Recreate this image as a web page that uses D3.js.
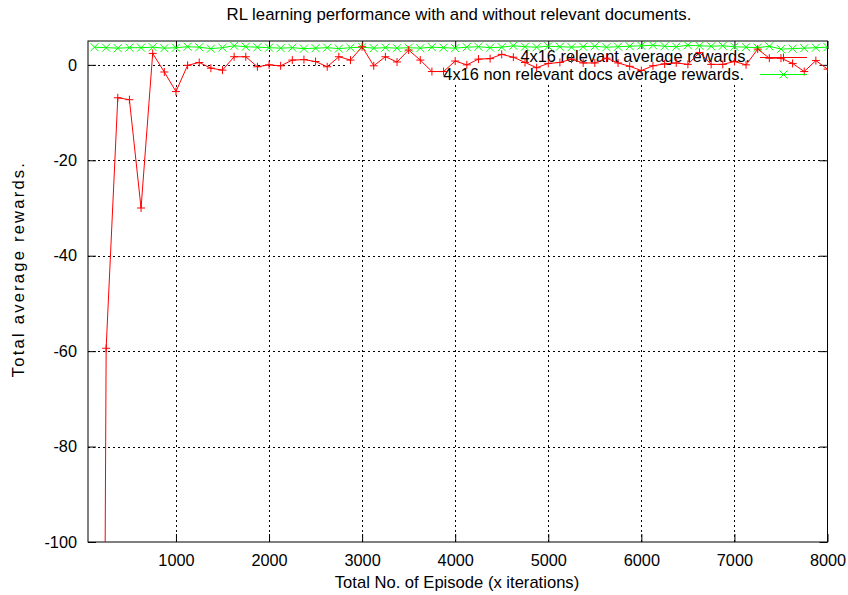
<!DOCTYPE html>
<html>
<head>
<meta charset="utf-8">
<script src="https://cdn.jsdelivr.net/npm/d3@7"></script>
<style>
  html, body { margin: 0; padding: 0; background: #fff; }
  svg { display: block; font-family: "Liberation Sans", Arial, Helvetica, sans-serif; }
</style>
</head>
<body>
<svg id="chart" width="848" height="595"></svg>
<script>
// Episode counts at which the average reward was sampled
const episodes = [
  125, 250, 375, 500, 625, 750, 875, 1000,
  1125, 1250, 1375, 1500, 1625, 1750, 1875, 2000,
  2125, 2250, 2375, 2500, 2625, 2750, 2875, 3000,
  3125, 3250, 3375, 3500, 3625, 3750, 3875, 4000,
  4125, 4250, 4375, 4500, 4625, 4750, 4875, 5000,
  5125, 5250, 5375, 5500, 5625, 5750, 5875, 6000,
  6125, 6250, 6375, 6500, 6625, 6750, 6875, 7000,
  7125, 7250, 7375, 7500, 7625, 7750, 7875, 8000
];

// 4x16 relevant average rewards
const relevantRewards = [
  -540, -59.4, -6.9, -7.3, -30.0, 2.4, -1.5, -5.6,
  -0.1, 0.5, -0.7, -1.1, 1.7, 1.7, -0.4, 0.0,
  -0.2, 1.0, 1.1, 0.7, -0.4, 1.7, 1.0, 3.8,
  -0.2, 1.7, 0.6, 3.1, 1.0, -1.4, -1.4, 0.8,
  0.0, 1.2, 1.3, 2.2, 1.6, 0.5, -0.6, 0.3,
  0.5, 1.2, 0.4, 0.4, 1.4, 0.4, -0.3, -1.2,
  -0.2, 0.2, 0.4, 0.1, 2.6, 0.1, 0.1, 0.7,
  0.0, 3.3, 1.4, 1.4, 0.3, -1.4, 0.9, -0.9
];

// 4x16 non relevant docs average rewards
const nonRelevantRewards = [
  3.7, 3.6, 3.5, 3.6, 3.6, 3.7, 3.5, 3.6,
  3.8, 3.7, 3.4, 3.6, 4.0, 3.8, 3.7, 3.6,
  3.5, 3.6, 3.4, 3.5, 3.6, 3.4, 3.6, 3.7,
  3.5, 3.6, 3.5, 3.6, 3.5, 3.7, 3.6, 3.5,
  3.7, 3.8, 3.6, 3.7, 4.0, 3.8, 3.7, 3.9,
  3.8, 3.7, 3.8, 3.9, 3.7, 3.8, 3.9, 4.0,
  4.1, 3.9, 3.8, 4.1, 4.0, 3.9, 4.0, 3.8,
  3.7, 3.6, 3.9, 3.3, 3.4, 3.5, 3.6, 3.7
];

const xTicks = [1000, 2000, 3000, 4000, 5000, 6000, 7000, 8000];
const yTicks = [0, -20, -40, -60, -80, -100];

const seriesNames = [
  "4x16 relevant average rewards.",
  "4x16 non relevant docs average rewards."
];
const seriesColors = ["#ff0000", "#00ff00"];

const titleText = "RL learning performance with and without relevant documents.";
const xLabelText = "Total No. of Episode (x iterations)";
const yLabelText = "Total average rewards.";

// ---- layout ----
const plot = { left: 88, right: 827.5, top: 41, bottom: 542 };
const svg = d3.select("#chart");

const x = d3.scaleLinear().domain([55, 8000]).range([plot.left, plot.right]);
const y = d3.scaleLinear().domain([-100, 5]).range([plot.bottom, plot.top]);

const defs = svg.append("defs");
defs.append("clipPath").attr("id", "plotClip")
  .append("rect")
  .attr("x", plot.left).attr("y", plot.top)
  .attr("width", plot.right - plot.left).attr("height", plot.bottom - plot.top);

// the grid stays clear of the key area
const gridMask = defs.append("mask").attr("id", "gridMask")
  .attr("maskUnits", "userSpaceOnUse")
  .attr("x", 0).attr("y", 0).attr("width", 848).attr("height", 595);
gridMask.append("rect").attr("x", 0).attr("y", 0).attr("width", 848).attr("height", 595).attr("fill", "#fff");
gridMask.append("rect").attr("x", 345).attr("y", plot.top - 2).attr("width", 480).attr("height", 74 - plot.top + 2).attr("fill", "#000");
gridMask.append("rect").attr("x", 430).attr("y", plot.top - 2).attr("width", 390).attr("height", 84 - plot.top + 2).attr("fill", "#000");

// ---- grid ----
const grid = svg.append("g").attr("mask", "url(#gridMask)")
  .attr("stroke", "#000").attr("stroke-width", 1).attr("stroke-dasharray", "2,3");

grid.selectAll("line.gx").data(xTicks.filter(d => d < 8000)).join("line")
  .attr("class", "gx")
  .attr("x1", d => Math.round(x(d)) + 0.5).attr("x2", d => Math.round(x(d)) + 0.5)
  .attr("y1", plot.bottom).attr("y2", plot.top);

grid.selectAll("line.gy").data(yTicks.filter(d => d > -100)).join("line")
  .attr("class", "gy")
  .attr("y1", d => Math.round(y(d)) + 0.5).attr("y2", d => Math.round(y(d)) + 0.5)
  .attr("x1", plot.left).attr("x2", plot.right);

// ---- axes (ticks point inward, mirrored on top and right) ----
const tickLen = 8;
const fontTick = 16.3;
const plainNumber = d => String(d);

const xAxisBottom = d3.axisBottom(x).tickValues(xTicks).tickSize(-tickLen).tickPadding(12).tickFormat(plainNumber);
const gxb = svg.append("g").attr("transform", `translate(0,${plot.bottom})`).call(xAxisBottom);
const xAxisTop = d3.axisTop(x).tickValues(xTicks).tickSize(-tickLen).tickFormat("");
const gxt = svg.append("g").attr("transform", `translate(0,${plot.top})`).call(xAxisTop);

const yAxisLeft = d3.axisLeft(y).tickValues(yTicks).tickSize(-tickLen).tickPadding(11).tickFormat(plainNumber);
const gyl = svg.append("g").attr("transform", `translate(${plot.left},0)`).call(yAxisLeft);
const yAxisRight = d3.axisRight(y).tickValues(yTicks).tickSize(-tickLen).tickFormat("");
const gyr = svg.append("g").attr("transform", `translate(${plot.right},0)`).call(yAxisRight);

[gxb, gxt, gyl, gyr].forEach(g => {
  g.select(".domain").remove();
  g.selectAll(".tick line").attr("stroke", "#000").attr("stroke-width", 1);
  g.selectAll(".tick text").attr("fill", "#000").attr("font-size", fontTick)
    .attr("font-family", "'Liberation Sans', Arial, sans-serif");
});
gxb.selectAll(".tick text").attr("dy", "0.71em");

// border
svg.append("rect")
  .attr("x", plot.left).attr("y", plot.top)
  .attr("width", plot.right - plot.left).attr("height", plot.bottom - plot.top)
  .attr("fill", "none").attr("stroke", "#000").attr("stroke-width", 1);

// ---- labels ----
svg.append("text").attr("x", 459).attr("y", 20).attr("text-anchor", "middle")
  .attr("font-size", 16.8).text(titleText);
svg.append("text").attr("x", 457).attr("y", 588).attr("text-anchor", "middle")
  .attr("font-size", 16.6).text(xLabelText);
svg.append("text").attr("transform", "translate(24,269) rotate(-90)").attr("text-anchor", "middle")
  .attr("font-size", 16.6).attr("letter-spacing", "2.2px").text(yLabelText);

// ---- key text (drawn under the data) ----
const keyRows = [
  { name: seriesNames[0], color: seriesColors[0], textX: 750, textY: 61.5, lineY: 57.5, marker: "plus" },
  { name: seriesNames[1], color: seriesColors[1], textX: 744, textY: 79.5, lineY: 74.5, marker: "cross" }
];
svg.selectAll("text.key").data(keyRows).join("text")
  .attr("class", "key")
  .attr("x", d => d.textX).attr("y", d => d.textY)
  .attr("text-anchor", "end").attr("font-size", 16.4).attr("fill", "#000")
  .text(d => d.name);

// ---- markers ----
function plusPath(cx, cy, r) {
  return `M${cx - r},${cy}H${cx + r}M${cx},${cy - r}V${cy + r}`;
}
function crossPath(cx, cy, r) {
  return `M${cx - r},${cy - r}L${cx + r},${cy + r}M${cx - r},${cy + r}L${cx + r},${cy - r}`;
}

const line = d3.line().x(d => x(d[0])).y(d => y(d[1]));
const data = [
  { values: d3.zip(episodes, relevantRewards), color: seriesColors[0], marker: plusPath },
  { values: d3.zip(episodes, nonRelevantRewards), color: seriesColors[1], marker: crossPath }
];

const plotG = svg.append("g").attr("clip-path", "url(#plotClip)");
// draw the second series first so the red one sits on top
data.slice().reverse().forEach(s => {
  plotG.append("path").datum(s.values)
    .attr("d", line).attr("fill", "none").attr("stroke", s.color).attr("stroke-width", 1);
  plotG.append("path")
    .attr("d", s.values.map(d => s.marker(x(d[0]), y(d[1]), 4)).join(""))
    .attr("fill", "none").attr("stroke", s.color).attr("stroke-width", 1);
});

// ---- key samples ----
keyRows.forEach(k => {
  svg.append("line").attr("x1", 760).attr("x2", 807).attr("y1", k.lineY).attr("y2", k.lineY)
    .attr("stroke", k.color).attr("stroke-width", 1);
  svg.append("path")
    .attr("d", (k.marker === "plus" ? plusPath : crossPath)(783.5, k.lineY, 4))
    .attr("fill", "none").attr("stroke", k.color).attr("stroke-width", 1);
});
</script>
</body>
</html>
